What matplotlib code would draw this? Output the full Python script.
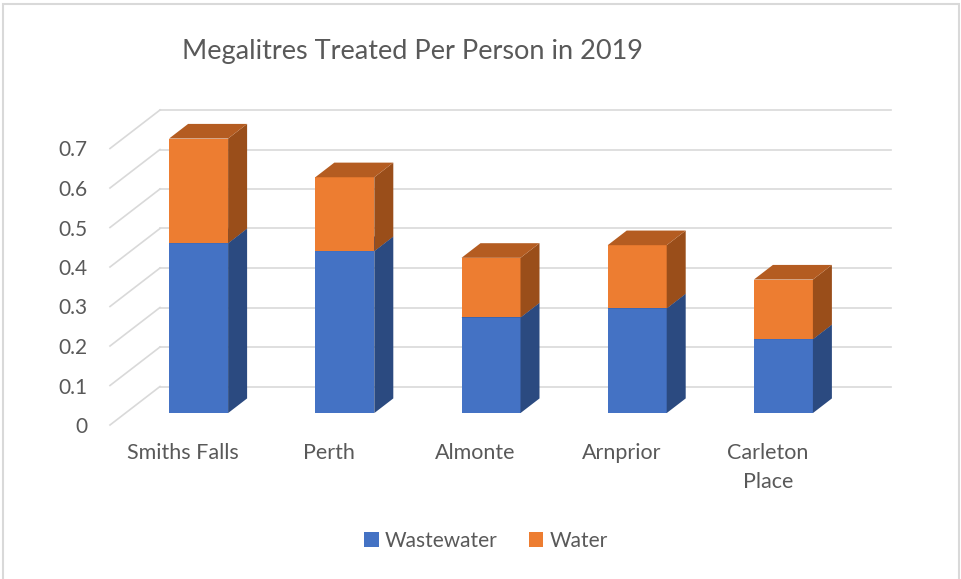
import numpy as np
import matplotlib
matplotlib.use("Agg")
import matplotlib.pyplot as plt
from matplotlib.patches import Polygon, Patch, Rectangle

plt.rcParams['font.family'] = ['Lato', 'DejaVu Sans']

# data
towns = ["Smiths Falls", "Perth", "Almonte", "Arnprior", "Carleton\nPlace"]
wastewater = [0.43, 0.41, 0.242, 0.265, 0.187]
water = [0.265, 0.187, 0.151, 0.16, 0.151]
ticks = [0, 0.1, 0.2, 0.3, 0.4, 0.5, 0.6, 0.7]

blue = ["#4472C4", "#2B4A80", "#33589A"]      # front, side, top
orange = ["#ED7D31", "#9A4E1A", "#B45C21"]
grid_c = "#D9D9D9"
text_c = "#595959"

W, H = 961, 579
fig = plt.figure(figsize=(W / 100, H / 100), dpi=100)
fig.patch.set_facecolor("white")

# axes = front plane of the 3d box
ax = fig.add_axes([110 / W, 154 / H, 731 / W, 316 / H])
ax.set_xlim(-0.5, len(towns) - 0.5)
ax.set_ylim(0, 0.8)
for s in ax.spines.values():
    s.set_visible(False)

# depth offset of the back wall, in data units
px_x = 731 / len(towns)
px_y = 316 / 0.8
dxb = 50 / px_x
dyb = 38.5 / px_y

# back wall gridlines + side wall diagonals
x0, x1 = -0.5, len(towns) - 0.5
for t in ticks:
    ax.plot([x0 + dxb, x1 + dxb], [t + dyb, t + dyb], color=grid_c, lw=1.2,
            clip_on=False, zorder=1)
    ax.plot([x0, x0 + dxb], [t, t + dyb], color=grid_c, lw=1.2,
            clip_on=False, zorder=1)

# bars
f0, f1 = 0.31, 0.69
bw = 59 / px_x
ddx = (f1 - f0) * dxb
ddy = (f1 - f0) * dyb
xs = np.arange(len(towns))


def box(xc, bottom, height, cols):
    xl = xc + f0 * dxb - bw / 2
    xr = xl + bw
    yb = bottom + f0 * dyb
    yt = yb + height
    ax.add_patch(Rectangle((xl, yb), bw, height, facecolor=cols[0],
                           edgecolor="none", clip_on=False, zorder=3))
    ax.add_patch(Polygon([(xr, yb), (xr + ddx, yb + ddy), (xr + ddx, yt + ddy), (xr, yt)],
                         closed=True, facecolor=cols[1], edgecolor="none",
                         clip_on=False, zorder=3))
    ax.add_patch(Polygon([(xl, yt), (xr, yt), (xr + ddx, yt + ddy), (xl + ddx, yt + ddy)],
                         closed=True, facecolor=cols[2], edgecolor="none",
                         clip_on=False, zorder=3))


for i in xs:
    box(i, 0, wastewater[i], blue)
    box(i, wastewater[i], water[i], orange)

ax.set_yticks(ticks)
ax.set_yticklabels([f"{t:g}" for t in ticks])
ax.set_xticks(xs)
ax.set_xticklabels(towns, linespacing=1.55)
ax.tick_params(axis="y", length=0, pad=16, labelsize=15, labelcolor=text_c)
ax.tick_params(axis="x", length=0, pad=13, labelsize=15.5, labelcolor=text_c)

fig.text(412 / W, 1 - 51 / H, "Megalitres Treated Per Person in 2019",
         ha="center", va="center", fontsize=19.5, color=text_c)

handles = [Patch(facecolor=blue[0], label="Wastewater"),
           Patch(facecolor=orange[0], label="Water")]
leg = fig.legend(handles=handles, loc="center", bbox_to_anchor=(486 / W, 1 - 541 / H),
                 ncol=2, frameon=False, fontsize=15, handlelength=0.7,
                 handleheight=0.7, handletextpad=0.3, columnspacing=1.5)
for t in leg.get_texts():
    t.set_color(text_c)

# chart border
fig.add_artist(Rectangle((3 / W, -0.05), 956 / W, 1.05 - 4 / H, transform=fig.transFigure,
                         facecolor="none", edgecolor=grid_c, lw=1.5))

fig.savefig("out.png", dpi=100)
